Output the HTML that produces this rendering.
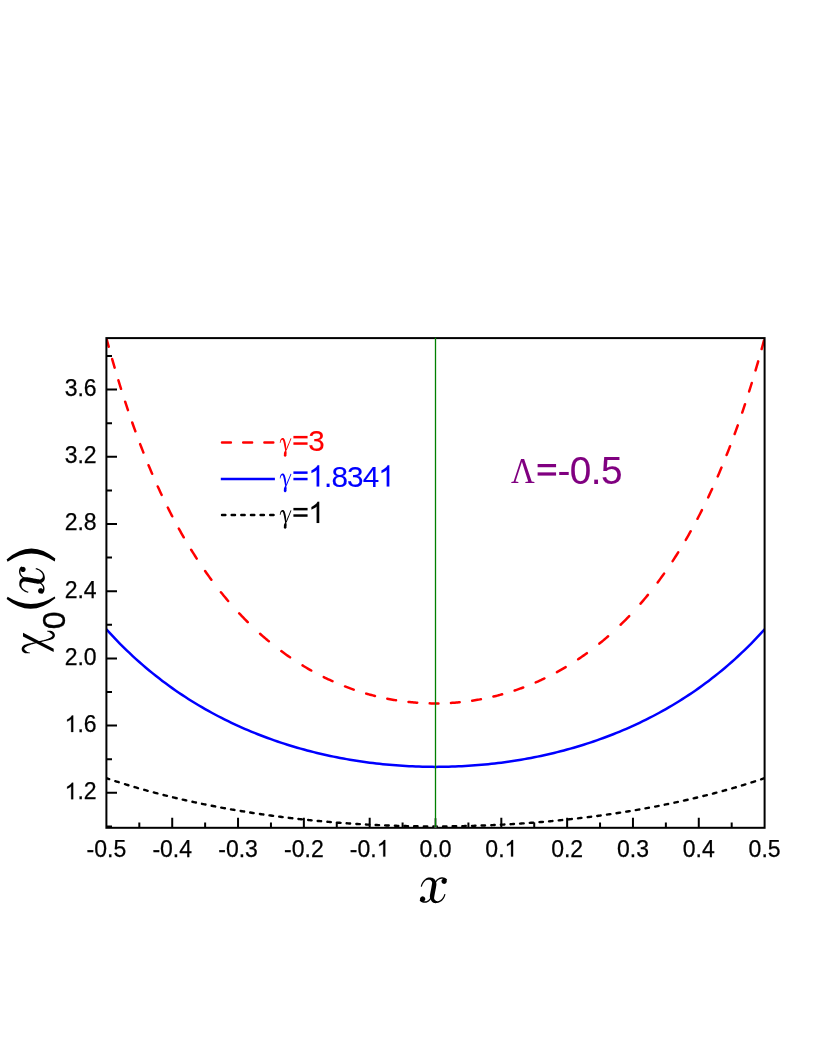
<!DOCTYPE html>
<html><head><meta charset="utf-8"><title>chi0(x)</title>
<style>html,body{margin:0;padding:0;background:#fff;}body{width:822px;height:1064px;overflow:hidden;font-family:"Liberation Sans",sans-serif;}svg{display:block;will-change:transform;}</style></head>
<body>
<svg width="822" height="1064" viewBox="0 0 822 1064">
<rect x="0" y="0" width="822" height="1064" fill="#ffffff"/>
<defs><clipPath id="pc"><rect x="106.40" y="338.10" width="658.20" height="489.70"/></clipPath></defs>
<g clip-path="url(#pc)" fill="none" stroke-linecap="round" stroke-linejoin="round">
<path d="M106.40,778.18 L107.72,778.62 L109.03,779.06 L109.20,779.12 M115.29,781.11 L116.60,781.54 L117.92,781.96 L118.74,782.22 M124.99,784.18 L126.31,784.58 L127.63,784.98 L128.45,785.23 M134.54,787.05 L135.85,787.43 L137.17,787.82 L137.99,788.06 M144.25,789.83 L145.56,790.20 L146.88,790.56 L147.70,790.79 M153.79,792.44 L155.11,792.79 L156.42,793.14 L157.41,793.40 M163.50,794.97 L164.82,795.30 L166.13,795.63 L166.95,795.83 M173.04,797.33 L174.36,797.64 L175.68,797.96 L176.66,798.19 M182.75,799.61 L184.07,799.92 L185.38,800.21 L186.21,800.40 M192.46,801.79 L193.78,802.07 L195.09,802.36 L195.92,802.53 M202.00,803.81 L203.32,804.08 L204.64,804.35 L205.46,804.52 M211.71,805.77 L213.03,806.03 L214.34,806.28 L215.17,806.44 M221.26,807.59 L222.57,807.83 L223.89,808.08 L224.88,808.26 M230.96,809.34 L232.28,809.57 L233.60,809.80 L234.42,809.94 M240.67,811.00 L241.99,811.21 L243.31,811.43 L244.13,811.56 M250.22,812.53 L251.53,812.74 L252.85,812.94 L253.67,813.07 M259.93,814.00 L261.24,814.19 L262.56,814.38 L263.38,814.50 M269.47,815.36 L270.79,815.54 L272.10,815.71 L273.09,815.85 M279.18,816.65 L280.49,816.81 L281.81,816.98 L282.63,817.09 M288.72,817.83 L290.04,817.99 L291.35,818.14 L292.34,818.26 M298.43,818.95 L299.75,819.10 L301.06,819.24 L301.89,819.33 M308.14,819.99 L309.45,820.12 L310.77,820.26 L311.59,820.34 M317.68,820.93 L319.00,821.05 L320.31,821.17 L321.14,821.25 M327.39,821.81 L328.71,821.92 L330.02,822.03 L330.85,822.10 M336.93,822.59 L338.25,822.69 L339.57,822.79 L340.55,822.87 M346.64,823.31 L347.96,823.40 L349.28,823.49 L350.10,823.55 M356.35,823.95 L357.67,824.03 L358.98,824.11 L359.81,824.16 M365.90,824.51 L367.21,824.58 L368.53,824.65 L369.35,824.69 M375.60,825.00 L376.92,825.06 L378.24,825.12 L379.06,825.16 M385.15,825.41 L386.46,825.46 L387.78,825.51 L388.77,825.55 M394.86,825.76 L396.17,825.80 L397.49,825.84 L398.31,825.86 M404.40,826.02 L405.72,826.06 L407.03,826.09 L408.02,826.11 M414.11,826.22 L415.42,826.24 L416.74,826.26 L417.56,826.28 M423.82,826.35 L425.13,826.36 L426.45,826.37 L427.27,826.37 M433.36,826.40 L434.68,826.40 L435.99,826.40 L436.82,826.40 M443.07,826.38 L444.39,826.37 L445.70,826.36 L446.52,826.35 M452.61,826.29 L453.93,826.27 L455.25,826.25 L456.23,826.23 M462.32,826.12 L463.64,826.09 L464.95,826.06 L465.78,826.04 M472.03,825.88 L473.35,825.84 L474.66,825.80 L475.49,825.78 M481.57,825.57 L482.89,825.53 L484.21,825.48 L485.03,825.45 M491.28,825.19 L492.60,825.13 L493.92,825.07 L494.74,825.03 M500.83,824.74 L502.14,824.67 L503.46,824.60 L504.45,824.55 M510.53,824.20 L511.85,824.12 L513.17,824.04 L513.99,823.99 M520.08,823.60 L521.40,823.51 L522.71,823.42 L523.70,823.36 M529.79,822.92 L531.10,822.82 L532.42,822.72 L533.24,822.65 M539.50,822.15 L540.81,822.04 L542.13,821.93 L542.95,821.86 M549.04,821.33 L550.36,821.20 L551.67,821.08 L552.50,821.01 M558.75,820.40 L560.06,820.27 L561.38,820.14 L562.20,820.06 M568.29,819.42 L569.61,819.28 L570.92,819.13 L571.91,819.02 M578.00,818.34 L579.32,818.18 L580.63,818.03 L581.46,817.93 M587.71,817.17 L589.03,817.00 L590.34,816.84 L591.16,816.73 M597.25,815.94 L598.57,815.76 L599.89,815.58 L600.71,815.47 M606.96,814.60 L608.28,814.41 L609.59,814.22 L610.42,814.10 M616.50,813.19 L617.82,812.99 L619.14,812.79 L620.13,812.63 M626.21,811.67 L627.53,811.46 L628.85,811.24 L629.67,811.11 M635.76,810.08 L637.07,809.86 L638.39,809.63 L639.38,809.46 M645.47,808.37 L646.78,808.14 L648.10,807.89 L648.92,807.74 M655.17,806.57 L656.49,806.31 L657.81,806.06 L658.63,805.90 M664.72,804.69 L666.03,804.42 L667.35,804.15 L668.17,803.98 M674.43,802.67 L675.74,802.39 L677.06,802.11 L677.88,801.93 M683.97,800.58 L685.29,800.29 L686.60,799.99 L687.59,799.76 M693.68,798.35 L695.00,798.04 L696.31,797.72 L697.13,797.53 M703.39,796.00 L704.70,795.67 L706.02,795.34 L706.84,795.13 M712.93,793.57 L714.25,793.22 L715.56,792.88 L716.39,792.66 M722.64,790.97 L723.96,790.61 L725.27,790.25 L726.10,790.02 M732.18,788.29 L733.50,787.91 L734.82,787.53 L735.80,787.24 M741.89,785.43 L743.21,785.03 L744.52,784.63 L745.35,784.38 M751.44,782.48 L752.75,782.06 L754.07,781.64 L755.06,781.33 M761.14,779.33 L762.46,778.90 L763.78,778.45 L764.60,778.18" stroke="#000000" stroke-width="2.4"/>
<path d="M106.40,629.28 L109.69,632.90 L112.98,636.44 L116.27,639.90 L119.56,643.28 L122.86,646.58 L126.15,649.81 L129.44,652.96 L132.73,656.04 L136.02,659.06 L139.31,662.00 L142.60,664.88 L145.89,667.70 L149.18,670.46 L152.47,673.15 L155.76,675.79 L159.06,678.36 L162.35,680.89 L165.64,683.35 L168.93,685.76 L172.22,688.12 L175.51,690.43 L178.80,692.69 L182.09,694.90 L185.38,697.06 L188.67,699.18 L191.97,701.24 L195.26,703.27 L198.55,705.25 L201.84,707.18 L205.13,709.08 L208.42,710.93 L211.71,712.74 L215.00,714.51 L218.29,716.25 L221.58,717.94 L224.88,719.60 L228.17,721.22 L231.46,722.80 L234.75,724.35 L238.04,725.86 L241.33,727.34 L244.62,728.79 L247.91,730.20 L251.20,731.58 L254.49,732.92 L257.79,734.24 L261.08,735.52 L264.37,736.77 L267.66,738.00 L270.95,739.19 L274.24,740.35 L277.53,741.48 L280.82,742.59 L284.11,743.66 L287.40,744.71 L290.70,745.73 L293.99,746.73 L297.28,747.69 L300.57,748.63 L303.86,749.55 L307.15,750.43 L310.44,751.29 L313.73,752.13 L317.02,752.94 L320.31,753.73 L323.61,754.49 L326.90,755.23 L330.19,755.94 L333.48,756.63 L336.77,757.29 L340.06,757.93 L343.35,758.55 L346.64,759.14 L349.93,759.72 L353.23,760.26 L356.52,760.79 L359.81,761.29 L363.10,761.77 L366.39,762.23 L369.68,762.67 L372.97,763.08 L376.26,763.47 L379.55,763.84 L382.84,764.19 L386.13,764.52 L389.43,764.83 L392.72,765.11 L396.01,765.37 L399.30,765.61 L402.59,765.83 L405.88,766.03 L409.17,766.21 L412.46,766.37 L415.75,766.50 L419.04,766.62 L422.34,766.71 L425.63,766.79 L428.92,766.84 L432.21,766.87 L435.50,766.88 L438.79,766.87 L442.08,766.84 L445.37,766.79 L448.66,766.71 L451.96,766.62 L455.25,766.50 L458.54,766.37 L461.83,766.21 L465.12,766.03 L468.41,765.83 L471.70,765.61 L474.99,765.37 L478.28,765.11 L481.57,764.83 L484.86,764.52 L488.16,764.19 L491.45,763.84 L494.74,763.47 L498.03,763.08 L501.32,762.67 L504.61,762.23 L507.90,761.77 L511.19,761.29 L514.48,760.79 L517.77,760.26 L521.07,759.72 L524.36,759.14 L527.65,758.55 L530.94,757.93 L534.23,757.29 L537.52,756.63 L540.81,755.94 L544.10,755.23 L547.39,754.49 L550.69,753.73 L553.98,752.94 L557.27,752.13 L560.56,751.29 L563.85,750.43 L567.14,749.55 L570.43,748.63 L573.72,747.69 L577.01,746.73 L580.30,745.73 L583.60,744.71 L586.89,743.66 L590.18,742.59 L593.47,741.48 L596.76,740.35 L600.05,739.19 L603.34,738.00 L606.63,736.77 L609.92,735.52 L613.21,734.24 L616.50,732.92 L619.80,731.58 L623.09,730.20 L626.38,728.79 L629.67,727.34 L632.96,725.86 L636.25,724.35 L639.54,722.80 L642.83,721.22 L646.12,719.60 L649.41,717.94 L652.71,716.25 L656.00,714.51 L659.29,712.74 L662.58,710.93 L665.87,709.08 L669.16,707.18 L672.45,705.25 L675.74,703.27 L679.03,701.24 L682.33,699.18 L685.62,697.06 L688.91,694.90 L692.20,692.69 L695.49,690.43 L698.78,688.12 L702.07,685.76 L705.36,683.35 L708.65,680.89 L711.94,678.36 L715.24,675.79 L718.53,673.15 L721.82,670.46 L725.11,667.70 L728.40,664.88 L731.69,662.00 L734.98,659.06 L738.27,656.04 L741.56,652.96 L744.85,649.81 L748.14,646.58 L751.44,643.28 L754.73,639.90 L758.02,636.44 L761.31,632.90 L764.60,629.28" stroke="#0000ff" stroke-width="2.5"/>
<path d="M106.40,338.14 L107.72,343.04 L108.70,346.67 M112.16,359.05 L113.48,363.65 L114.63,367.62 M118.41,380.31 L119.73,384.60 L121.04,388.83 M125.16,401.69 L126.48,405.69 L127.79,409.63 L127.96,410.12 M132.23,422.54 L133.55,426.26 L134.87,429.92 L135.36,431.28 M140.13,444.09 L141.45,447.52 L142.77,450.90 L143.42,452.58 M148.52,465.19 L149.84,468.35 L151.16,471.46 L152.14,473.77 M157.74,486.44 L159.06,489.33 L160.37,492.18 L161.69,494.99 M167.78,507.55 L169.09,510.18 L170.41,512.77 L171.73,515.33 L172.22,516.28 M178.80,528.57 L180.12,530.94 L181.43,533.28 L182.75,535.60 L183.74,537.31 M191.14,549.72 L192.46,551.84 L193.78,553.94 L195.09,556.01 L196.41,558.06 L196.74,558.57 M205.13,571.04 L206.45,572.92 L207.76,574.77 L209.08,576.61 L210.40,578.42 L211.38,579.76 M220.93,592.20 L222.24,593.83 L223.56,595.45 L224.88,597.05 L226.19,598.63 L227.51,600.20 L228.17,600.97 M239.19,613.33 L240.51,614.73 L241.82,616.11 L243.14,617.48 L244.46,618.84 L245.77,620.17 L247.09,621.50 L247.75,622.15 M260.09,633.79 L261.41,634.96 L262.72,636.12 L264.04,637.26 L265.36,638.39 L266.67,639.51 L267.99,640.62 L268.81,641.30 M281.32,651.12 L282.63,652.09 L283.95,653.05 L285.27,653.99 L286.58,654.93 L287.90,655.86 L289.22,656.77 L290.04,657.34 M302.54,665.43 L303.86,666.23 L305.18,667.02 L306.49,667.80 L307.81,668.56 L309.13,669.32 L310.44,670.07 L311.26,670.53 M323.77,677.11 L325.09,677.76 L326.40,678.39 L327.72,679.02 L329.04,679.63 L330.35,680.24 L331.67,680.84 L332.49,681.21 M345.00,686.43 L346.31,686.93 L347.63,687.43 L348.95,687.92 L350.26,688.40 L351.58,688.87 L352.90,689.33 L353.72,689.62 M366.22,693.58 L367.54,693.96 L368.86,694.33 L370.17,694.69 L371.49,695.04 L372.81,695.39 L374.12,695.72 L374.95,695.93 M387.29,698.69 L388.60,698.95 L389.92,699.20 L391.24,699.44 L392.55,699.67 L393.87,699.90 L395.19,700.12 L396.01,700.26 M408.51,701.94 L409.83,702.08 L411.15,702.22 L412.46,702.34 L413.78,702.46 L415.10,702.58 L416.41,702.68 L417.23,702.74 M429.74,703.35 L431.06,703.38 L432.37,703.40 L433.69,703.41 L435.01,703.41 L436.32,703.41 L437.64,703.41 L438.46,703.40 M450.97,702.93 L452.28,702.85 L453.60,702.75 L454.92,702.65 L456.23,702.55 L457.55,702.43 L458.87,702.31 L459.69,702.23 M472.19,700.69 L473.51,700.49 L474.83,700.28 L476.14,700.07 L477.46,699.85 L478.78,699.62 L480.09,699.38 L480.92,699.23 M493.42,696.58 L494.74,696.26 L496.05,695.93 L497.37,695.60 L498.69,695.26 L500.00,694.91 L501.32,694.55 L502.14,694.33 M514.65,690.51 L515.96,690.07 L517.28,689.62 L518.60,689.16 L519.91,688.69 L521.23,688.22 L522.55,687.73 L523.21,687.49 M535.71,682.44 L537.03,681.87 L538.34,681.28 L539.66,680.69 L540.98,680.09 L542.29,679.48 L543.61,678.86 L544.43,678.47 M556.94,672.08 L558.25,671.36 L559.57,670.63 L560.89,669.88 L562.20,669.13 L563.52,668.37 L564.84,667.60 L565.66,667.12 M578.16,659.23 L579.48,658.35 L580.80,657.45 L582.11,656.54 L583.43,655.63 L584.75,654.70 L586.06,653.76 L586.89,653.17 M599.39,643.59 L600.71,642.52 L602.02,641.44 L603.34,640.34 L604.66,639.23 L605.97,638.11 L607.29,636.98 L608.11,636.26 M620.62,624.74 L621.94,623.46 L623.25,622.15 L624.57,620.84 L625.88,619.51 L627.20,618.16 L628.52,616.80 L629.18,616.11 M640.53,603.65 L641.85,602.13 L643.16,600.58 L644.48,599.02 L645.79,597.45 L647.11,595.85 L647.93,594.85 M657.64,582.42 L658.96,580.65 L660.28,578.87 L661.59,577.06 L662.91,575.23 L664.06,573.62 M672.62,561.09 L673.93,559.07 L675.25,557.04 L676.57,554.98 L677.88,552.89 L678.21,552.37 M685.78,539.86 L687.10,537.60 L688.41,535.31 L689.73,532.99 L690.72,531.23 M697.46,518.80 L698.78,516.28 L700.10,513.73 L701.41,511.15 L701.91,510.18 M708.16,497.42 L709.48,494.64 L710.79,491.82 L712.11,488.97 M717.70,476.43 L719.02,473.39 L720.34,470.30 L721.49,467.56 M726.59,455.07 L727.91,451.74 L729.22,448.37 L730.04,446.24 M734.65,433.98 L735.97,430.37 L737.28,426.72 L737.78,425.33 M742.22,412.55 L743.54,408.65 L744.85,404.69 L745.02,404.19 M749.13,391.45 L750.45,387.25 L751.77,383.00 M755.55,370.42 L756.87,365.92 L758.18,361.36 M761.64,349.06 L762.95,344.26 L763.94,340.60" stroke="#ff0000" stroke-width="2.5"/>
</g>
<rect x="106.40" y="338.10" width="658.20" height="489.70" fill="none" stroke="#000" stroke-width="2"/>
<path d="M106.40,826.40 h5.60 M106.40,792.80 h10.60 M106.40,759.20 h5.60 M106.40,725.60 h10.60 M106.40,692.00 h5.60 M106.40,658.40 h10.60 M106.40,624.80 h5.60 M106.40,591.20 h10.60 M106.40,557.60 h5.60 M106.40,524.00 h10.60 M106.40,490.40 h5.60 M106.40,456.80 h10.60 M106.40,423.20 h5.60 M106.40,389.60 h10.60 M106.40,356.00 h5.60 M139.31,827.80 v-5.20 M172.22,827.80 v-10.00 M205.13,827.80 v-5.20 M238.04,827.80 v-10.00 M270.95,827.80 v-5.20 M303.86,827.80 v-10.00 M336.77,827.80 v-5.20 M369.68,827.80 v-10.00 M402.59,827.80 v-5.20 M468.41,827.80 v-5.20 M501.32,827.80 v-10.00 M534.23,827.80 v-5.20 M567.14,827.80 v-10.00 M600.05,827.80 v-5.20 M632.96,827.80 v-10.00 M665.87,827.80 v-5.20 M698.78,827.80 v-10.00 M731.69,827.80 v-5.20" stroke="#000" stroke-width="2" fill="none"/>
<path d="M435.50,827.80 v-9.6" stroke="#6b6b6b" stroke-width="2.2" fill="none"/>
<line x1="435.50" y1="337.70" x2="435.50" y2="827.20" stroke="#008000" stroke-width="1.3"/>
<g transform="translate(96.60,799.20)" fill="#000" stroke="#000" stroke-width="0.25" font-family="'Liberation Sans', sans-serif" font-size="23.00px"><text x="-19.18 -12.79" y="0">.2</text><path d="M-23.40,0.00 L-25.43,0.00 L-25.43,-12.88 Q-26.16,-12.19 -27.34,-11.49 Q-28.53,-10.79 -29.47,-10.44 L-29.47,-12.40 Q-27.77,-13.20 -26.50,-14.33 Q-25.23,-15.46 -24.71,-16.53 L-23.40,-16.53Z"/></g>
<g transform="translate(96.60,732.00)" fill="#000" stroke="#000" stroke-width="0.25" font-family="'Liberation Sans', sans-serif" font-size="23.00px"><text x="-19.18 -12.79" y="0">.6</text><path d="M-23.40,0.00 L-25.43,0.00 L-25.43,-12.88 Q-26.16,-12.19 -27.34,-11.49 Q-28.53,-10.79 -29.47,-10.44 L-29.47,-12.40 Q-27.77,-13.20 -26.50,-14.33 Q-25.23,-15.46 -24.71,-16.53 L-23.40,-16.53Z"/></g>
<g transform="translate(96.60,664.80)" fill="#000" stroke="#000" stroke-width="0.25" font-family="'Liberation Sans', sans-serif" font-size="23.00px"><text x="-31.97 -19.18 -12.79" y="0">2.0</text></g>
<g transform="translate(96.60,597.60)" fill="#000" stroke="#000" stroke-width="0.25" font-family="'Liberation Sans', sans-serif" font-size="23.00px"><text x="-31.97 -19.18 -12.79" y="0">2.4</text></g>
<g transform="translate(96.60,530.40)" fill="#000" stroke="#000" stroke-width="0.25" font-family="'Liberation Sans', sans-serif" font-size="23.00px"><text x="-31.97 -19.18 -12.79" y="0">2.8</text></g>
<g transform="translate(96.60,463.20)" fill="#000" stroke="#000" stroke-width="0.25" font-family="'Liberation Sans', sans-serif" font-size="23.00px"><text x="-31.97 -19.18 -12.79" y="0">3.2</text></g>
<g transform="translate(96.60,396.00)" fill="#000" stroke="#000" stroke-width="0.25" font-family="'Liberation Sans', sans-serif" font-size="23.00px"><text x="-31.97 -19.18 -12.79" y="0">3.6</text></g>
<g transform="translate(106.40,856.60)" fill="#000" stroke="#000" stroke-width="0.25" font-family="'Liberation Sans', sans-serif" font-size="23.00px"><text x="-19.82 -12.16 0.63 7.02" y="0">-0.5</text></g>
<g transform="translate(172.22,856.60)" fill="#000" stroke="#000" stroke-width="0.25" font-family="'Liberation Sans', sans-serif" font-size="23.00px"><text x="-19.82 -12.16 0.63 7.02" y="0">-0.4</text></g>
<g transform="translate(238.04,856.60)" fill="#000" stroke="#000" stroke-width="0.25" font-family="'Liberation Sans', sans-serif" font-size="23.00px"><text x="-19.82 -12.16 0.63 7.02" y="0">-0.3</text></g>
<g transform="translate(303.86,856.60)" fill="#000" stroke="#000" stroke-width="0.25" font-family="'Liberation Sans', sans-serif" font-size="23.00px"><text x="-19.82 -12.16 0.63 7.02" y="0">-0.2</text></g>
<g transform="translate(369.68,856.60)" fill="#000" stroke="#000" stroke-width="0.25" font-family="'Liberation Sans', sans-serif" font-size="23.00px"><text x="-19.82 -12.16 0.63" y="0">-0.</text><path d="M15.59,0.00 L13.57,0.00 L13.57,-12.88 Q12.84,-12.19 11.66,-11.49 Q10.47,-10.79 9.53,-10.44 L9.53,-12.40 Q11.22,-13.20 12.49,-14.33 Q13.76,-15.46 14.29,-16.53 L15.59,-16.53Z"/></g>
<g transform="translate(435.50,856.60)" fill="#000" stroke="#000" stroke-width="0.25" font-family="'Liberation Sans', sans-serif" font-size="23.00px"><text x="-15.99 -3.20 3.20" y="0">0.0</text></g>
<g transform="translate(501.32,856.60)" fill="#000" stroke="#000" stroke-width="0.25" font-family="'Liberation Sans', sans-serif" font-size="23.00px"><text x="-15.99 -3.20" y="0">0.</text><path d="M11.76,0.00 L9.74,0.00 L9.74,-12.88 Q9.01,-12.19 7.83,-11.49 Q6.64,-10.79 5.70,-10.44 L5.70,-12.40 Q7.40,-13.20 8.66,-14.33 Q9.93,-15.46 10.46,-16.53 L11.76,-16.53Z"/></g>
<g transform="translate(567.14,856.60)" fill="#000" stroke="#000" stroke-width="0.25" font-family="'Liberation Sans', sans-serif" font-size="23.00px"><text x="-15.99 -3.20 3.20" y="0">0.2</text></g>
<g transform="translate(632.96,856.60)" fill="#000" stroke="#000" stroke-width="0.25" font-family="'Liberation Sans', sans-serif" font-size="23.00px"><text x="-15.99 -3.20 3.20" y="0">0.3</text></g>
<g transform="translate(698.78,856.60)" fill="#000" stroke="#000" stroke-width="0.25" font-family="'Liberation Sans', sans-serif" font-size="23.00px"><text x="-15.99 -3.20 3.20" y="0">0.4</text></g>
<g transform="translate(764.60,856.60)" fill="#000" stroke="#000" stroke-width="0.25" font-family="'Liberation Sans', sans-serif" font-size="23.00px"><text x="-15.99 -3.20 3.20" y="0">0.5</text></g>
<g fill="none">
<path d="M222.0,442.5 H274.9" stroke="#ff0000" stroke-width="2.5" stroke-linecap="round" stroke-dasharray="8.9 12.3"/>
<path d="M220.8,479 H274.9" stroke="#0000ff" stroke-width="2.4"/>
<path d="M222.0,515 H274.0" stroke="#000" stroke-width="2.4" stroke-linecap="round" stroke-dasharray="3.4 6.24"/>
</g>
<path d="M280.44,443.04 L280.46,442.73 L280.50,442.44 L280.56,442.16 L280.63,441.89 L280.71,441.64 L280.79,441.40 L280.89,441.18 L280.99,440.97 L281.09,440.78 L281.19,440.60 L281.29,440.43 L281.39,440.27 L281.50,440.13 L281.62,440.01 L281.74,439.92 L281.88,439.85 L282.01,439.80 L282.13,439.77 L282.25,439.76 L282.35,439.76 L282.45,439.77 L282.54,439.78 L282.61,439.79 L282.60,439.79 L282.58,439.78 L282.57,439.78 L282.63,439.83 L282.72,439.95 L282.84,440.14 L282.96,440.39 L283.09,440.70 L283.22,441.06 L283.35,441.47 L283.47,441.91 L283.59,442.40 L283.70,442.91 L283.81,443.45 L283.92,444.02 L284.03,444.61 L284.14,445.22 L284.26,445.83 L284.39,446.46 L284.52,447.09 L284.65,447.73 L284.77,448.37 L284.88,449.01 L284.98,449.65 L285.07,450.28 L286.40,450.11 L286.33,449.48 L286.27,448.84 L286.22,448.19 L286.18,447.53 L286.14,446.88 L286.09,446.22 L286.03,445.57 L285.96,444.93 L285.88,444.30 L285.77,443.69 L285.66,443.09 L285.54,442.51 L285.41,441.96 L285.28,441.43 L285.14,440.93 L284.98,440.46 L284.82,440.02 L284.64,439.61 L284.44,439.23 L284.21,438.88 L283.94,438.56 L283.62,438.28 L283.22,438.07 L282.78,437.97 L282.44,437.99 L282.19,438.05 L281.95,438.14 L281.74,438.26 L281.54,438.40 L281.36,438.57 L281.19,438.74 L281.05,438.93 L280.91,439.12 L280.78,439.31 L280.65,439.51 L280.52,439.71 L280.40,439.93 L280.29,440.15 L280.20,440.39 L280.12,440.65 L280.06,440.91 L280.00,441.18 L279.96,441.47 L279.92,441.76 L279.89,442.05 L279.87,442.36 L279.85,442.68 L279.83,443.00Z" fill="#ff0000"/>
<path d="M290.60,438.22 L290.40,438.71 L290.19,439.21 L289.99,439.70 L289.79,440.19 L289.58,440.68 L289.38,441.18 L289.18,441.67 L288.98,442.16 L288.77,442.65 L288.57,443.14 L288.37,443.63 L288.17,444.12 L287.97,444.61 L287.77,445.10 L287.56,445.59 L287.36,446.08 L287.16,446.57 L286.96,447.07 L286.76,447.56 L286.55,448.05 L286.35,448.54 L286.15,449.03 L285.94,449.53 L285.74,450.02 L286.58,450.37 L286.78,449.88 L286.99,449.38 L287.19,448.89 L287.40,448.40 L287.60,447.90 L287.80,447.41 L288.00,446.92 L288.21,446.43 L288.41,445.94 L288.61,445.45 L288.81,444.96 L289.01,444.47 L289.21,443.98 L289.42,443.49 L289.62,443.00 L289.82,442.51 L290.02,442.01 L290.22,441.52 L290.43,441.03 L290.63,440.54 L290.83,440.05 L291.04,439.56 L291.24,439.06 L291.45,438.57Z" fill="#ff0000"/>
<path d="M285.25,449.71 L285.22,449.93 L285.16,450.15 L285.09,450.37 L285.01,450.59 L284.92,450.80 L284.81,451.02 L284.70,451.23 L284.59,451.45 L284.48,451.67 L284.37,451.89 L284.27,452.11 L284.17,452.34 L284.09,452.57 L284.02,452.81 L283.96,453.06 L283.93,453.31 L283.91,453.56 L283.90,453.82 L283.89,454.08 L283.89,454.35 L283.90,454.61 L283.90,454.88 L283.91,455.15 L283.91,455.41 L286.34,455.44 L286.35,455.20 L286.37,454.97 L286.40,454.75 L286.43,454.53 L286.47,454.31 L286.51,454.08 L286.55,453.86 L286.58,453.64 L286.61,453.41 L286.62,453.18 L286.62,452.95 L286.61,452.72 L286.58,452.48 L286.56,452.24 L286.52,452.00 L286.48,451.75 L286.45,451.51 L286.41,451.26 L286.38,451.02 L286.35,450.78 L286.33,450.54 L286.32,450.30 L286.32,450.06 L286.34,449.83Z" fill="#ff0000"/>
<path d="M286.40,455.43 L286.36,455.76 L286.23,456.06 L286.03,456.33 L285.76,456.53 L285.45,456.66 L285.12,456.70 L284.79,456.66 L284.49,456.53 L284.22,456.33 L284.02,456.06 L283.89,455.76 L283.85,455.43 L283.89,455.10 L284.02,454.79 L284.22,454.52 L284.49,454.32 L284.79,454.19 L285.12,454.15 L285.45,454.19 L285.76,454.32 L286.03,454.52 L286.23,454.79 L286.36,455.10Z" fill="#ff0000"/>
<g transform="translate(292.30,451.00)" fill="#ff0000" stroke="#ff0000" stroke-width="0.10" font-family="'Liberation Sans', sans-serif" font-size="29.68px"><text x="15.88" y="0">3</text><rect x="1.11" y="-8.69" width="14.16" height="2.48" stroke="none"/><rect x="1.11" y="-15.10" width="14.16" height="2.48" stroke="none"/></g>
<path d="M280.44,478.54 L280.46,478.23 L280.50,477.94 L280.56,477.66 L280.63,477.39 L280.71,477.14 L280.79,476.90 L280.89,476.68 L280.99,476.47 L281.09,476.28 L281.19,476.10 L281.29,475.93 L281.39,475.77 L281.50,475.63 L281.62,475.51 L281.74,475.42 L281.88,475.35 L282.01,475.30 L282.13,475.27 L282.25,475.26 L282.35,475.26 L282.45,475.27 L282.54,475.28 L282.61,475.29 L282.60,475.29 L282.58,475.28 L282.57,475.28 L282.63,475.33 L282.72,475.45 L282.84,475.64 L282.96,475.89 L283.09,476.20 L283.22,476.56 L283.35,476.97 L283.47,477.41 L283.59,477.90 L283.70,478.41 L283.81,478.95 L283.92,479.52 L284.03,480.11 L284.14,480.72 L284.26,481.33 L284.39,481.96 L284.52,482.59 L284.65,483.23 L284.77,483.87 L284.88,484.51 L284.98,485.15 L285.07,485.78 L286.40,485.61 L286.33,484.98 L286.27,484.34 L286.22,483.69 L286.18,483.03 L286.14,482.38 L286.09,481.72 L286.03,481.07 L285.96,480.43 L285.88,479.80 L285.77,479.19 L285.66,478.59 L285.54,478.01 L285.41,477.46 L285.28,476.93 L285.14,476.43 L284.98,475.96 L284.82,475.52 L284.64,475.11 L284.44,474.73 L284.21,474.38 L283.94,474.06 L283.62,473.78 L283.22,473.57 L282.78,473.47 L282.44,473.49 L282.19,473.55 L281.95,473.64 L281.74,473.76 L281.54,473.90 L281.36,474.07 L281.19,474.24 L281.05,474.43 L280.91,474.62 L280.78,474.81 L280.65,475.01 L280.52,475.21 L280.40,475.43 L280.29,475.65 L280.20,475.89 L280.12,476.15 L280.06,476.41 L280.00,476.68 L279.96,476.97 L279.92,477.26 L279.89,477.55 L279.87,477.86 L279.85,478.18 L279.83,478.50Z" fill="#0000ff"/>
<path d="M290.60,473.72 L290.40,474.21 L290.19,474.71 L289.99,475.20 L289.79,475.69 L289.58,476.18 L289.38,476.68 L289.18,477.17 L288.98,477.66 L288.77,478.15 L288.57,478.64 L288.37,479.13 L288.17,479.62 L287.97,480.11 L287.77,480.60 L287.56,481.09 L287.36,481.58 L287.16,482.07 L286.96,482.57 L286.76,483.06 L286.55,483.55 L286.35,484.04 L286.15,484.53 L285.94,485.03 L285.74,485.52 L286.58,485.87 L286.78,485.38 L286.99,484.88 L287.19,484.39 L287.40,483.90 L287.60,483.40 L287.80,482.91 L288.00,482.42 L288.21,481.93 L288.41,481.44 L288.61,480.95 L288.81,480.46 L289.01,479.97 L289.21,479.48 L289.42,478.99 L289.62,478.50 L289.82,478.01 L290.02,477.51 L290.22,477.02 L290.43,476.53 L290.63,476.04 L290.83,475.55 L291.04,475.06 L291.24,474.56 L291.45,474.07Z" fill="#0000ff"/>
<path d="M285.25,485.21 L285.22,485.43 L285.16,485.65 L285.09,485.87 L285.01,486.09 L284.92,486.30 L284.81,486.52 L284.70,486.73 L284.59,486.95 L284.48,487.17 L284.37,487.39 L284.27,487.61 L284.17,487.84 L284.09,488.07 L284.02,488.31 L283.96,488.56 L283.93,488.81 L283.91,489.06 L283.90,489.32 L283.89,489.58 L283.89,489.85 L283.90,490.11 L283.90,490.38 L283.91,490.65 L283.91,490.91 L286.34,490.94 L286.35,490.70 L286.37,490.47 L286.40,490.25 L286.43,490.03 L286.47,489.81 L286.51,489.58 L286.55,489.36 L286.58,489.14 L286.61,488.91 L286.62,488.68 L286.62,488.45 L286.61,488.22 L286.58,487.98 L286.56,487.74 L286.52,487.50 L286.48,487.25 L286.45,487.01 L286.41,486.76 L286.38,486.52 L286.35,486.28 L286.33,486.04 L286.32,485.80 L286.32,485.56 L286.34,485.33Z" fill="#0000ff"/>
<path d="M286.40,490.93 L286.36,491.26 L286.23,491.56 L286.03,491.83 L285.76,492.03 L285.45,492.16 L285.12,492.20 L284.79,492.16 L284.49,492.03 L284.22,491.83 L284.02,491.56 L283.89,491.26 L283.85,490.93 L283.89,490.60 L284.02,490.29 L284.22,490.02 L284.49,489.82 L284.79,489.69 L285.12,489.65 L285.45,489.69 L285.76,489.82 L286.03,490.02 L286.23,490.29 L286.36,490.60Z" fill="#0000ff"/>
<g transform="translate(292.30,486.50)" fill="#0000ff" stroke="#0000ff" stroke-width="0.10" font-family="'Liberation Sans', sans-serif" font-size="29.68px"><text x="31.69 39.24 54.81 70.38" y="0">.834</text><rect x="1.11" y="-8.69" width="14.16" height="2.48" stroke="none"/><rect x="1.11" y="-15.10" width="14.16" height="2.48" stroke="none"/><path d="M26.94,0.00 L24.33,0.00 L24.33,-16.62 Q23.39,-15.72 21.86,-14.83 Q20.33,-13.93 19.12,-13.48 L19.12,-16.00 Q21.30,-17.03 22.94,-18.49 Q24.58,-19.96 25.26,-21.33 L26.94,-21.33Z"/><path d="M97.01,0.00 L94.40,0.00 L94.40,-16.62 Q93.46,-15.72 91.93,-14.83 Q90.40,-13.93 89.18,-13.48 L89.18,-16.00 Q91.37,-17.03 93.01,-18.49 Q94.65,-19.96 95.33,-21.33 L97.01,-21.33Z"/></g>
<path d="M280.44,515.04 L280.46,514.73 L280.50,514.44 L280.56,514.16 L280.63,513.89 L280.71,513.64 L280.79,513.40 L280.89,513.18 L280.99,512.97 L281.09,512.78 L281.19,512.60 L281.29,512.43 L281.39,512.27 L281.50,512.13 L281.62,512.01 L281.74,511.92 L281.88,511.85 L282.01,511.80 L282.13,511.77 L282.25,511.76 L282.35,511.76 L282.45,511.77 L282.54,511.78 L282.61,511.79 L282.60,511.79 L282.58,511.78 L282.57,511.78 L282.63,511.83 L282.72,511.95 L282.84,512.14 L282.96,512.39 L283.09,512.70 L283.22,513.06 L283.35,513.47 L283.47,513.91 L283.59,514.40 L283.70,514.91 L283.81,515.45 L283.92,516.02 L284.03,516.61 L284.14,517.22 L284.26,517.83 L284.39,518.46 L284.52,519.09 L284.65,519.73 L284.77,520.37 L284.88,521.01 L284.98,521.65 L285.07,522.28 L286.40,522.11 L286.33,521.48 L286.27,520.84 L286.22,520.19 L286.18,519.53 L286.14,518.88 L286.09,518.22 L286.03,517.57 L285.96,516.93 L285.88,516.30 L285.77,515.69 L285.66,515.09 L285.54,514.51 L285.41,513.96 L285.28,513.43 L285.14,512.93 L284.98,512.46 L284.82,512.02 L284.64,511.61 L284.44,511.23 L284.21,510.88 L283.94,510.56 L283.62,510.28 L283.22,510.07 L282.78,509.97 L282.44,509.99 L282.19,510.05 L281.95,510.14 L281.74,510.26 L281.54,510.40 L281.36,510.57 L281.19,510.74 L281.05,510.93 L280.91,511.12 L280.78,511.31 L280.65,511.51 L280.52,511.71 L280.40,511.93 L280.29,512.15 L280.20,512.39 L280.12,512.65 L280.06,512.91 L280.00,513.18 L279.96,513.47 L279.92,513.76 L279.89,514.05 L279.87,514.36 L279.85,514.68 L279.83,515.00Z" fill="#000000"/>
<path d="M290.60,510.22 L290.40,510.71 L290.19,511.21 L289.99,511.70 L289.79,512.19 L289.58,512.68 L289.38,513.18 L289.18,513.67 L288.98,514.16 L288.77,514.65 L288.57,515.14 L288.37,515.63 L288.17,516.12 L287.97,516.61 L287.77,517.10 L287.56,517.59 L287.36,518.08 L287.16,518.57 L286.96,519.07 L286.76,519.56 L286.55,520.05 L286.35,520.54 L286.15,521.03 L285.94,521.53 L285.74,522.02 L286.58,522.37 L286.78,521.88 L286.99,521.38 L287.19,520.89 L287.40,520.40 L287.60,519.90 L287.80,519.41 L288.00,518.92 L288.21,518.43 L288.41,517.94 L288.61,517.45 L288.81,516.96 L289.01,516.47 L289.21,515.98 L289.42,515.49 L289.62,515.00 L289.82,514.51 L290.02,514.01 L290.22,513.52 L290.43,513.03 L290.63,512.54 L290.83,512.05 L291.04,511.56 L291.24,511.06 L291.45,510.57Z" fill="#000000"/>
<path d="M285.25,521.71 L285.22,521.93 L285.16,522.15 L285.09,522.37 L285.01,522.59 L284.92,522.80 L284.81,523.02 L284.70,523.23 L284.59,523.45 L284.48,523.67 L284.37,523.89 L284.27,524.11 L284.17,524.34 L284.09,524.57 L284.02,524.81 L283.96,525.06 L283.93,525.31 L283.91,525.56 L283.90,525.82 L283.89,526.08 L283.89,526.35 L283.90,526.61 L283.90,526.88 L283.91,527.15 L283.91,527.41 L286.34,527.44 L286.35,527.20 L286.37,526.97 L286.40,526.75 L286.43,526.53 L286.47,526.31 L286.51,526.08 L286.55,525.86 L286.58,525.64 L286.61,525.41 L286.62,525.18 L286.62,524.95 L286.61,524.72 L286.58,524.48 L286.56,524.24 L286.52,524.00 L286.48,523.75 L286.45,523.51 L286.41,523.26 L286.38,523.02 L286.35,522.78 L286.33,522.54 L286.32,522.30 L286.32,522.06 L286.34,521.83Z" fill="#000000"/>
<path d="M286.40,527.43 L286.36,527.76 L286.23,528.06 L286.03,528.33 L285.76,528.53 L285.45,528.66 L285.12,528.70 L284.79,528.66 L284.49,528.53 L284.22,528.33 L284.02,528.06 L283.89,527.76 L283.85,527.43 L283.89,527.10 L284.02,526.79 L284.22,526.52 L284.49,526.32 L284.79,526.19 L285.12,526.15 L285.45,526.19 L285.76,526.32 L286.03,526.52 L286.23,526.79 L286.36,527.10Z" fill="#000000"/>
<g transform="translate(292.30,523.00)" fill="#000000" stroke="#000000" stroke-width="0.10" font-family="'Liberation Sans', sans-serif" font-size="29.68px"><rect x="1.11" y="-8.69" width="14.16" height="2.48" stroke="none"/><rect x="1.11" y="-15.10" width="14.16" height="2.48" stroke="none"/><path d="M26.94,0.00 L24.33,0.00 L24.33,-16.62 Q23.39,-15.72 21.86,-14.83 Q20.33,-13.93 19.12,-13.48 L19.12,-16.00 Q21.30,-17.03 22.94,-18.49 Q24.58,-19.96 25.26,-21.33 L26.94,-21.33Z"/></g>
<text transform="translate(511,483) scale(0.915,1)" fill="#800080" font-family="'Liberation Serif', serif" font-size="35.8px">Λ</text>
<g transform="translate(535.90,483.70)" fill="#800080" stroke="#800080" stroke-width="0.12" font-family="'Liberation Sans', sans-serif" font-size="38.71px"><text x="21.62 33.93 54.91 65.12" y="0">-0.5</text><rect x="1.71" y="-11.33" width="18.46" height="3.23" stroke="none"/><rect x="1.71" y="-19.70" width="18.46" height="3.23" stroke="none"/></g>
<path d="M421.87,886.72 L422.00,886.20 L422.16,885.71 L422.33,885.22 L422.53,884.74 L422.74,884.28 L422.97,883.82 L423.22,883.39 L423.48,882.97 L423.76,882.56 L424.05,882.18 L424.35,881.82 L424.66,881.47 L424.98,881.15 L425.31,880.85 L425.65,880.57 L426.01,880.34 L426.38,880.15 L426.75,880.00 L427.13,879.89 L427.51,879.81 L427.88,879.76 L428.24,879.73 L428.60,879.72 L428.96,879.71 L429.37,879.74 L429.75,879.82 L430.10,879.93 L430.41,880.08 L430.68,880.26 L430.92,880.45 L431.11,880.65 L431.28,880.85 L431.43,881.05 L431.56,881.24 L431.68,881.42 L431.80,881.59 L431.91,881.78 L432.00,881.98 L432.06,882.20 L432.10,882.44 L432.11,882.69 L432.11,882.96 L432.09,883.23 L432.06,883.52 L432.02,883.82 L431.96,884.13 L431.91,884.46 L431.83,884.86 L431.77,885.29 L431.70,885.70 L431.63,886.12 L431.56,886.55 L431.48,886.98 L431.41,887.41 L431.33,887.84 L431.25,888.27 L431.16,888.71 L431.08,889.14 L431.00,889.58 L430.91,890.01 L430.83,890.45 L430.74,890.88 L430.66,891.31 L430.57,891.74 L430.49,892.17 L430.41,892.59 L430.33,893.01 L430.25,893.43 L430.18,893.84 L430.10,894.25 L430.03,894.66 L429.96,895.08 L429.89,895.64 L429.86,896.24 L429.89,896.82 L429.96,897.39 L430.07,897.94 L430.22,898.47 L430.40,898.98 L430.60,899.46 L430.84,899.93 L431.09,900.37 L431.35,900.79 L431.63,901.20 L431.94,901.59 L432.29,901.93 L432.67,902.24 L433.08,902.50 L433.51,902.71 L433.96,902.88 L434.42,903.00 L434.89,903.09 L435.37,903.13 L435.84,903.13 L436.32,903.10 L436.79,903.05 L437.36,902.96 L437.91,902.83 L438.44,902.68 L438.95,902.51 L439.45,902.31 L439.93,902.10 L440.40,901.86 L440.85,901.58 L441.28,901.28 L441.69,900.95 L442.09,900.59 L442.46,900.20 L442.82,899.80 L443.15,899.37 L443.47,898.92 L443.77,898.46 L444.05,897.97 L444.32,897.47 L444.56,896.96 L444.79,896.44 L445.00,895.90 L445.20,895.35 L445.38,894.79 L445.54,894.23 L444.39,893.90 L444.23,894.44 L444.06,894.96 L443.87,895.46 L443.67,895.95 L443.44,896.43 L443.20,896.89 L442.95,897.33 L442.68,897.76 L442.39,898.16 L442.09,898.55 L441.78,898.91 L441.46,899.25 L441.13,899.57 L440.79,899.86 L440.43,900.13 L440.07,900.37 L439.70,900.59 L439.32,900.78 L438.92,900.94 L438.51,901.06 L438.09,901.13 L437.66,901.16 L437.23,901.14 L436.78,901.09 L436.47,901.00 L436.17,900.89 L435.90,900.76 L435.66,900.61 L435.44,900.45 L435.25,900.28 L435.09,900.11 L434.93,899.94 L434.79,899.76 L434.66,899.59 L434.54,899.41 L434.41,899.23 L434.29,899.03 L434.21,898.81 L434.15,898.57 L434.12,898.32 L434.10,898.05 L434.11,897.76 L434.14,897.47 L434.18,897.17 L434.23,896.85 L434.29,896.52 L434.35,896.18 L434.42,895.78 L434.48,895.42 L434.55,895.04 L434.62,894.65 L434.69,894.25 L434.76,893.85 L434.84,893.44 L434.92,893.02 L435.00,892.60 L435.09,892.18 L435.17,891.75 L435.26,891.31 L435.34,890.88 L435.43,890.44 L435.51,889.99 L435.60,889.55 L435.68,889.11 L435.77,888.66 L435.85,888.21 L435.93,887.77 L436.01,887.32 L436.08,886.87 L436.16,886.43 L436.23,885.98 L436.29,885.55 L436.36,885.03 L436.40,884.45 L436.38,883.88 L436.33,883.32 L436.23,882.78 L436.09,882.25 L435.93,881.73 L435.72,881.24 L435.50,880.77 L435.24,880.31 L434.97,879.88 L434.67,879.45 L434.33,879.06 L433.94,878.72 L433.52,878.43 L433.06,878.18 L432.58,877.99 L432.09,877.85 L431.58,877.74 L431.07,877.67 L430.55,877.62 L430.03,877.60 L429.50,877.59 L428.95,877.59 L428.42,877.62 L427.90,877.72 L427.40,877.87 L426.92,878.07 L426.46,878.31 L426.03,878.57 L425.61,878.86 L425.20,879.17 L424.81,879.49 L424.41,879.82 L424.03,880.18 L423.67,880.55 L423.32,880.96 L422.99,881.38 L422.68,881.82 L422.39,882.28 L422.11,882.76 L421.86,883.25 L421.62,883.75 L421.40,884.27 L421.20,884.80 L421.02,885.33 L420.85,885.88 L420.71,886.42Z" fill="#000"/>
<path d="M434.95,885.66 L435.06,885.11 L435.20,884.59 L435.36,884.09 L435.54,883.60 L435.75,883.14 L435.97,882.70 L436.21,882.29 L436.47,881.89 L436.74,881.52 L437.03,881.17 L437.33,880.84 L437.64,880.53 L437.96,880.25 L438.29,880.00 L438.63,879.77 L438.98,879.56 L439.33,879.38 L439.69,879.22 L440.05,879.08 L440.41,878.97 L440.78,878.89 L441.15,878.83 L441.52,878.79 L441.91,878.78 L442.13,878.78 L442.35,878.80 L442.57,878.82 L442.78,878.86 L442.99,878.90 L443.19,878.95 L443.38,879.01 L443.57,879.07 L443.75,879.15 L443.92,879.23 L444.08,879.31 L444.24,879.41 L444.38,879.50 L444.52,879.60 L444.65,879.71 L444.77,879.82 L444.88,879.93 L444.99,880.05 L445.08,880.17 L445.17,880.29 L445.26,880.42 L445.33,880.55 L445.40,880.68 L445.48,880.84 L447.17,880.03 L447.07,879.82 L446.94,879.59 L446.79,879.37 L446.63,879.17 L446.46,878.97 L446.28,878.79 L446.09,878.62 L445.89,878.46 L445.68,878.31 L445.46,878.17 L445.24,878.05 L445.01,877.94 L444.77,877.83 L444.53,877.74 L444.29,877.66 L444.04,877.59 L443.78,877.53 L443.52,877.47 L443.26,877.43 L443.00,877.39 L442.73,877.36 L442.45,877.34 L442.18,877.33 L441.89,877.33 L441.42,877.35 L440.95,877.40 L440.48,877.49 L440.03,877.61 L439.57,877.76 L439.13,877.94 L438.70,878.15 L438.28,878.39 L437.88,878.66 L437.49,878.95 L437.11,879.27 L436.75,879.62 L436.40,879.99 L436.07,880.38 L435.76,880.79 L435.47,881.23 L435.19,881.69 L434.94,882.17 L434.71,882.67 L434.49,883.19 L434.30,883.72 L434.13,884.28 L433.98,884.85 L433.86,885.43Z" fill="#000"/>
<path d="M431.48,894.63 L431.36,895.16 L431.23,895.66 L431.07,896.15 L430.89,896.62 L430.70,897.07 L430.48,897.49 L430.25,897.90 L430.01,898.29 L429.75,898.66 L429.48,899.00 L429.20,899.32 L428.90,899.62 L428.60,899.89 L428.29,900.15 L427.98,900.37 L427.66,900.58 L427.33,900.76 L427.01,900.91 L426.68,901.05 L426.35,901.15 L426.02,901.24 L425.69,901.30 L425.36,901.33 L425.02,901.34 L424.79,901.34 L424.54,901.32 L424.30,901.30 L424.08,901.27 L423.85,901.22 L423.64,901.17 L423.43,901.11 L423.24,901.04 L423.05,900.97 L422.87,900.89 L422.70,900.80 L422.54,900.71 L422.39,900.62 L422.25,900.51 L422.12,900.41 L422.00,900.30 L421.88,900.19 L421.78,900.07 L421.68,899.95 L421.59,899.83 L421.51,899.70 L421.43,899.57 L421.36,899.44 L421.28,899.28 L419.59,900.09 L419.70,900.30 L419.83,900.53 L419.97,900.75 L420.13,900.96 L420.30,901.15 L420.49,901.34 L420.68,901.51 L420.89,901.67 L421.10,901.82 L421.32,901.95 L421.55,902.08 L421.78,902.19 L422.03,902.29 L422.27,902.38 L422.53,902.46 L422.79,902.54 L423.05,902.60 L423.32,902.65 L423.59,902.70 L423.87,902.73 L424.16,902.76 L424.45,902.78 L424.74,902.79 L425.05,902.79 L425.48,902.77 L425.91,902.72 L426.34,902.63 L426.77,902.51 L427.19,902.36 L427.60,902.18 L427.99,901.97 L428.38,901.73 L428.76,901.46 L429.12,901.17 L429.48,900.85 L429.81,900.51 L430.14,900.15 L430.45,899.77 L430.74,899.36 L431.02,898.93 L431.28,898.49 L431.52,898.02 L431.74,897.54 L431.95,897.03 L432.13,896.51 L432.30,895.97 L432.44,895.42 L432.56,894.86Z" fill="#000"/>
<path d="M446.75,881.29 L446.66,881.97 L446.40,882.61 L445.98,883.16 L445.43,883.58 L444.80,883.84 L444.11,883.93 L443.43,883.84 L442.79,883.58 L442.25,883.16 L441.83,882.61 L441.56,881.97 L441.47,881.29 L441.56,880.61 L441.83,879.97 L442.25,879.42 L442.79,879.00 L443.43,878.74 L444.11,878.65 L444.80,878.74 L445.43,879.00 L445.98,879.42 L446.40,879.97 L446.66,880.61Z" fill="#000"/>
<path d="M425.29,899.00 L425.20,899.69 L424.94,900.32 L424.52,900.87 L423.97,901.29 L423.34,901.55 L422.65,901.64 L421.97,901.55 L421.33,901.29 L420.79,900.87 L420.37,900.32 L420.10,899.69 L420.01,899.00 L420.10,898.32 L420.37,897.68 L420.79,897.14 L421.33,896.72 L421.97,896.45 L422.65,896.36 L423.34,896.45 L423.97,896.72 L424.52,897.14 L424.94,897.68 L425.20,898.32Z" fill="#000"/>
<path d="M28.42,591.68 L27.90,591.55 L27.41,591.39 L26.92,591.22 L26.44,591.02 L25.98,590.81 L25.52,590.58 L25.09,590.33 L24.67,590.07 L24.26,589.79 L23.88,589.50 L23.52,589.20 L23.17,588.89 L22.85,588.57 L22.55,588.24 L22.27,587.90 L22.04,587.54 L21.85,587.17 L21.70,586.80 L21.59,586.42 L21.51,586.04 L21.46,585.67 L21.43,585.31 L21.42,584.95 L21.41,584.59 L21.44,584.18 L21.52,583.80 L21.63,583.45 L21.78,583.14 L21.96,582.87 L22.15,582.63 L22.35,582.44 L22.55,582.27 L22.75,582.12 L22.94,581.99 L23.12,581.87 L23.29,581.75 L23.48,581.64 L23.68,581.55 L23.90,581.49 L24.14,581.45 L24.39,581.44 L24.66,581.44 L24.93,581.46 L25.22,581.49 L25.52,581.53 L25.83,581.59 L26.16,581.64 L26.56,581.72 L26.99,581.78 L27.40,581.85 L27.82,581.92 L28.25,581.99 L28.68,582.07 L29.11,582.14 L29.54,582.22 L29.97,582.30 L30.41,582.39 L30.84,582.47 L31.28,582.55 L31.71,582.64 L32.15,582.72 L32.58,582.81 L33.01,582.89 L33.44,582.98 L33.87,583.06 L34.29,583.14 L34.71,583.22 L35.13,583.30 L35.54,583.37 L35.95,583.45 L36.36,583.52 L36.78,583.59 L37.34,583.66 L37.94,583.69 L38.52,583.66 L39.09,583.59 L39.64,583.48 L40.17,583.33 L40.68,583.15 L41.16,582.95 L41.63,582.71 L42.07,582.46 L42.49,582.20 L42.90,581.92 L43.29,581.61 L43.63,581.26 L43.94,580.88 L44.20,580.47 L44.41,580.04 L44.58,579.59 L44.70,579.13 L44.79,578.66 L44.83,578.18 L44.83,577.71 L44.80,577.23 L44.75,576.76 L44.66,576.19 L44.53,575.64 L44.38,575.11 L44.21,574.60 L44.01,574.10 L43.80,573.62 L43.56,573.15 L43.28,572.70 L42.98,572.27 L42.65,571.86 L42.29,571.46 L41.90,571.09 L41.50,570.73 L41.07,570.40 L40.62,570.08 L40.16,569.78 L39.67,569.50 L39.17,569.23 L38.66,568.99 L38.14,568.76 L37.60,568.55 L37.05,568.35 L36.49,568.17 L35.93,568.01 L35.60,569.16 L36.14,569.32 L36.66,569.49 L37.16,569.68 L37.65,569.88 L38.13,570.11 L38.59,570.35 L39.03,570.60 L39.46,570.87 L39.86,571.16 L40.25,571.46 L40.61,571.77 L40.95,572.09 L41.27,572.42 L41.56,572.76 L41.83,573.12 L42.07,573.48 L42.29,573.85 L42.48,574.23 L42.64,574.63 L42.76,575.04 L42.83,575.46 L42.86,575.89 L42.84,576.32 L42.79,576.77 L42.70,577.08 L42.59,577.38 L42.46,577.65 L42.31,577.89 L42.15,578.11 L41.98,578.30 L41.81,578.46 L41.64,578.62 L41.46,578.76 L41.29,578.89 L41.11,579.01 L40.93,579.14 L40.73,579.26 L40.51,579.34 L40.27,579.40 L40.02,579.43 L39.75,579.45 L39.46,579.44 L39.17,579.41 L38.87,579.37 L38.55,579.32 L38.22,579.26 L37.88,579.20 L37.48,579.13 L37.12,579.07 L36.74,579.00 L36.35,578.93 L35.95,578.86 L35.55,578.79 L35.14,578.71 L34.72,578.63 L34.30,578.55 L33.88,578.46 L33.45,578.38 L33.01,578.29 L32.58,578.21 L32.14,578.12 L31.69,578.04 L31.25,577.95 L30.81,577.87 L30.36,577.78 L29.91,577.70 L29.47,577.62 L29.02,577.54 L28.57,577.47 L28.13,577.39 L27.68,577.32 L27.25,577.26 L26.73,577.19 L26.15,577.15 L25.58,577.17 L25.02,577.22 L24.48,577.32 L23.95,577.46 L23.43,577.62 L22.94,577.83 L22.47,578.05 L22.01,578.31 L21.58,578.58 L21.15,578.88 L20.76,579.22 L20.42,579.61 L20.13,580.03 L19.88,580.49 L19.69,580.97 L19.55,581.46 L19.44,581.97 L19.37,582.48 L19.32,583.00 L19.30,583.52 L19.29,584.05 L19.29,584.60 L19.32,585.13 L19.42,585.65 L19.57,586.15 L19.77,586.63 L20.01,587.09 L20.27,587.52 L20.56,587.94 L20.87,588.35 L21.19,588.74 L21.52,589.14 L21.88,589.52 L22.25,589.88 L22.66,590.23 L23.08,590.56 L23.52,590.87 L23.98,591.16 L24.46,591.44 L24.95,591.69 L25.45,591.93 L25.97,592.15 L26.50,592.35 L27.03,592.53 L27.58,592.70 L28.12,592.84Z" fill="#000"/>
<path d="M27.36,578.60 L26.81,578.49 L26.29,578.35 L25.79,578.19 L25.30,578.01 L24.84,577.80 L24.40,577.58 L23.99,577.34 L23.59,577.08 L23.22,576.81 L22.87,576.52 L22.54,576.22 L22.23,575.91 L21.95,575.59 L21.70,575.26 L21.47,574.92 L21.26,574.57 L21.08,574.22 L20.92,573.86 L20.78,573.50 L20.67,573.14 L20.59,572.77 L20.53,572.40 L20.49,572.03 L20.48,571.64 L20.48,571.42 L20.50,571.20 L20.52,570.98 L20.56,570.77 L20.60,570.56 L20.65,570.36 L20.71,570.17 L20.77,569.98 L20.85,569.80 L20.93,569.63 L21.01,569.47 L21.11,569.31 L21.20,569.17 L21.30,569.03 L21.41,568.90 L21.52,568.78 L21.63,568.67 L21.75,568.56 L21.87,568.47 L21.99,568.38 L22.12,568.29 L22.25,568.22 L22.38,568.15 L22.54,568.07 L21.73,566.38 L21.52,566.48 L21.29,566.61 L21.07,566.76 L20.87,566.92 L20.67,567.09 L20.49,567.27 L20.32,567.46 L20.16,567.66 L20.01,567.87 L19.87,568.09 L19.75,568.31 L19.64,568.54 L19.53,568.78 L19.44,569.02 L19.36,569.26 L19.29,569.51 L19.23,569.77 L19.17,570.03 L19.13,570.29 L19.09,570.55 L19.06,570.82 L19.04,571.10 L19.03,571.37 L19.03,571.66 L19.05,572.13 L19.10,572.60 L19.19,573.07 L19.31,573.52 L19.46,573.98 L19.64,574.42 L19.85,574.85 L20.09,575.27 L20.36,575.67 L20.65,576.06 L20.97,576.44 L21.32,576.80 L21.69,577.15 L22.08,577.48 L22.49,577.79 L22.93,578.08 L23.39,578.36 L23.87,578.61 L24.37,578.84 L24.89,579.06 L25.42,579.25 L25.98,579.42 L26.55,579.57 L27.13,579.69Z" fill="#000"/>
<path d="M36.33,582.07 L36.86,582.19 L37.36,582.32 L37.85,582.48 L38.32,582.66 L38.77,582.85 L39.19,583.07 L39.60,583.30 L39.99,583.54 L40.36,583.80 L40.70,584.07 L41.02,584.35 L41.32,584.65 L41.59,584.95 L41.85,585.26 L42.07,585.57 L42.28,585.89 L42.46,586.22 L42.61,586.54 L42.75,586.87 L42.85,587.20 L42.94,587.53 L43.00,587.86 L43.03,588.19 L43.04,588.53 L43.04,588.76 L43.02,589.01 L43.00,589.25 L42.97,589.47 L42.92,589.70 L42.87,589.91 L42.81,590.12 L42.74,590.31 L42.67,590.50 L42.59,590.68 L42.50,590.85 L42.41,591.01 L42.32,591.16 L42.21,591.30 L42.11,591.43 L42.00,591.55 L41.89,591.67 L41.77,591.77 L41.65,591.87 L41.53,591.96 L41.40,592.04 L41.27,592.12 L41.14,592.19 L40.98,592.27 L41.79,593.96 L42.00,593.85 L42.23,593.72 L42.45,593.58 L42.66,593.42 L42.85,593.25 L43.04,593.06 L43.21,592.87 L43.37,592.66 L43.52,592.45 L43.65,592.23 L43.78,592.00 L43.89,591.77 L43.99,591.52 L44.08,591.28 L44.16,591.02 L44.24,590.76 L44.30,590.50 L44.35,590.23 L44.40,589.96 L44.43,589.68 L44.46,589.39 L44.48,589.10 L44.49,588.81 L44.49,588.50 L44.47,588.07 L44.42,587.64 L44.33,587.21 L44.21,586.78 L44.06,586.36 L43.88,585.95 L43.67,585.56 L43.43,585.17 L43.16,584.79 L42.87,584.43 L42.55,584.07 L42.21,583.74 L41.85,583.41 L41.47,583.10 L41.06,582.81 L40.63,582.53 L40.19,582.27 L39.72,582.03 L39.24,581.81 L38.73,581.60 L38.21,581.42 L37.67,581.25 L37.12,581.11 L36.56,580.99Z" fill="#000"/>
<path d="M22.99,566.80 L23.67,566.89 L24.31,567.15 L24.86,567.57 L25.28,568.12 L25.54,568.75 L25.63,569.44 L25.54,570.12 L25.28,570.76 L24.86,571.30 L24.31,571.72 L23.67,571.99 L22.99,572.08 L22.31,571.99 L21.67,571.72 L21.12,571.30 L20.70,570.76 L20.44,570.12 L20.35,569.44 L20.44,568.75 L20.70,568.12 L21.12,567.57 L21.67,567.15 L22.31,566.89Z" fill="#000"/>
<path d="M40.70,588.26 L41.39,588.35 L42.02,588.61 L42.57,589.03 L42.99,589.58 L43.25,590.21 L43.34,590.90 L43.25,591.58 L42.99,592.22 L42.57,592.76 L42.02,593.18 L41.39,593.45 L40.70,593.54 L40.02,593.45 L39.38,593.18 L38.84,592.76 L38.42,592.22 L38.15,591.58 L38.06,590.90 L38.15,590.21 L38.42,589.58 L38.84,589.03 L39.38,588.61 L40.02,588.35Z" fill="#000"/>
<path d="M6.6,559.4 Q31,537.8 55.3,558.6 L54.8,561.6 Q31,545.2 7.6,561.8 Z" fill="#000"/>
<path d="M6.6,599.0 Q31,619.0 55.3,598.2 L54.8,596.6 Q31,611.5 7.6,596.8 Z" fill="#000"/>
<text transform="translate(64.9,629.3) rotate(-90)" font-family="'Liberation Sans', sans-serif" font-size="32px" fill="#000" stroke="#000" stroke-width="0.3">0</text>
<path d="M23.03,632.74 L23.03,636.53 L53.69,652.08 L53.69,648.65Z" fill="#000"/>
<path d="M29.94,652.45 L29.45,652.46 L28.98,652.43 L28.53,652.35 L28.09,652.24 L27.68,652.09 L27.30,651.91 L26.94,651.71 L26.61,651.50 L26.31,651.28 L26.03,651.05 L25.78,650.83 L25.56,650.62 L25.35,650.42 L25.16,650.24 L24.98,650.07 L24.82,649.91 L24.69,649.74 L24.58,649.59 L24.48,649.44 L24.41,649.29 L24.36,649.14 L24.32,649.00 L24.30,648.85 L24.30,648.71 L24.33,648.54 L24.38,648.37 L24.45,648.20 L24.55,648.04 L24.68,647.87 L24.84,647.69 L25.04,647.51 L25.28,647.32 L25.55,647.12 L25.85,646.91 L26.19,646.70 L26.56,646.49 L26.97,646.27 L27.41,646.06 L27.89,645.84 L28.39,645.62 L28.93,645.41 L29.49,645.19 L30.08,644.98 L30.69,644.77 L31.34,644.56 L32.00,644.35 L32.69,644.15 L33.41,643.95 L33.86,643.81 L34.32,643.69 L34.77,643.57 L35.23,643.45 L35.68,643.34 L36.14,643.22 L36.59,643.11 L37.05,643.00 L37.50,642.88 L37.96,642.77 L38.41,642.66 L38.87,642.55 L39.33,642.43 L39.78,642.32 L40.24,642.21 L40.69,642.10 L41.15,641.99 L41.61,641.88 L42.06,641.77 L42.52,641.66 L42.97,641.55 L43.43,641.44 L43.89,641.33 L44.35,641.22 L44.99,641.06 L45.61,640.91 L46.23,640.77 L46.84,640.64 L47.43,640.51 L48.01,640.38 L48.58,640.25 L49.13,640.12 L49.66,639.99 L50.18,639.85 L50.68,639.70 L51.17,639.54 L51.63,639.37 L52.07,639.17 L52.50,638.96 L52.89,638.73 L53.27,638.46 L53.61,638.17 L53.92,637.84 L54.20,637.49 L54.44,637.11 L54.63,636.69 L54.78,636.25 L54.87,635.77 L54.88,635.29 L54.84,634.85 L54.76,634.43 L54.64,634.02 L54.48,633.63 L54.28,633.26 L54.05,632.91 L53.79,632.57 L53.50,632.26 L53.19,631.97 L52.86,631.70 L52.51,631.45 L52.13,631.24 L51.72,631.07 L51.29,630.95 L50.84,630.86 L50.39,630.80 L49.93,630.77 L49.46,630.76 L49.00,630.76 L48.53,630.77 L48.07,630.78 L47.60,630.78 L47.14,630.77 L47.10,631.50 L47.54,631.54 L47.96,631.63 L48.37,631.76 L48.76,631.92 L49.13,632.11 L49.48,632.31 L49.80,632.53 L50.11,632.75 L50.39,632.96 L50.65,633.17 L50.90,633.36 L51.14,633.53 L51.37,633.69 L51.58,633.85 L51.76,634.02 L51.93,634.19 L52.07,634.36 L52.19,634.53 L52.29,634.70 L52.37,634.87 L52.43,635.04 L52.47,635.21 L52.50,635.40 L52.50,635.55 L52.48,635.69 L52.44,635.84 L52.37,635.99 L52.28,636.15 L52.15,636.31 L51.99,636.48 L51.80,636.66 L51.57,636.85 L51.31,637.04 L51.02,637.25 L50.69,637.46 L50.33,637.67 L49.94,637.88 L49.52,638.09 L49.07,638.30 L48.60,638.51 L48.10,638.72 L47.58,638.92 L47.03,639.12 L46.47,639.31 L45.89,639.50 L45.29,639.68 L44.67,639.85 L44.05,640.02 L43.60,640.13 L43.14,640.24 L42.68,640.35 L42.23,640.46 L41.77,640.57 L41.31,640.68 L40.86,640.79 L40.40,640.90 L39.94,641.01 L39.49,641.12 L39.03,641.23 L38.57,641.34 L38.12,641.45 L37.66,641.57 L37.20,641.68 L36.75,641.79 L36.29,641.91 L35.83,642.02 L35.38,642.14 L34.92,642.25 L34.46,642.37 L34.01,642.48 L33.55,642.59 L33.09,642.70 L32.37,642.86 L31.66,643.01 L30.97,643.15 L30.29,643.29 L29.64,643.43 L29.01,643.56 L28.40,643.70 L27.81,643.84 L27.24,643.98 L26.69,644.13 L26.17,644.29 L25.66,644.46 L25.18,644.64 L24.72,644.85 L24.28,645.07 L23.87,645.31 L23.49,645.59 L23.14,645.89 L22.81,646.22 L22.52,646.58 L22.26,646.97 L22.05,647.38 L21.88,647.83 L21.76,648.30 L21.70,648.78 L21.70,649.24 L21.76,649.69 L21.86,650.13 L22.02,650.56 L22.21,650.96 L22.45,651.34 L22.72,651.70 L23.03,652.04 L23.37,652.34 L23.74,652.61 L24.15,652.83 L24.59,653.01 L25.04,653.15 L25.51,653.25 L25.99,653.32 L26.48,653.36 L26.97,653.37 L27.47,653.37 L27.97,653.34 L28.47,653.31 L28.97,653.27 L29.48,653.22 L29.99,653.17Z" fill="#000"/>
</svg>
</body></html>
